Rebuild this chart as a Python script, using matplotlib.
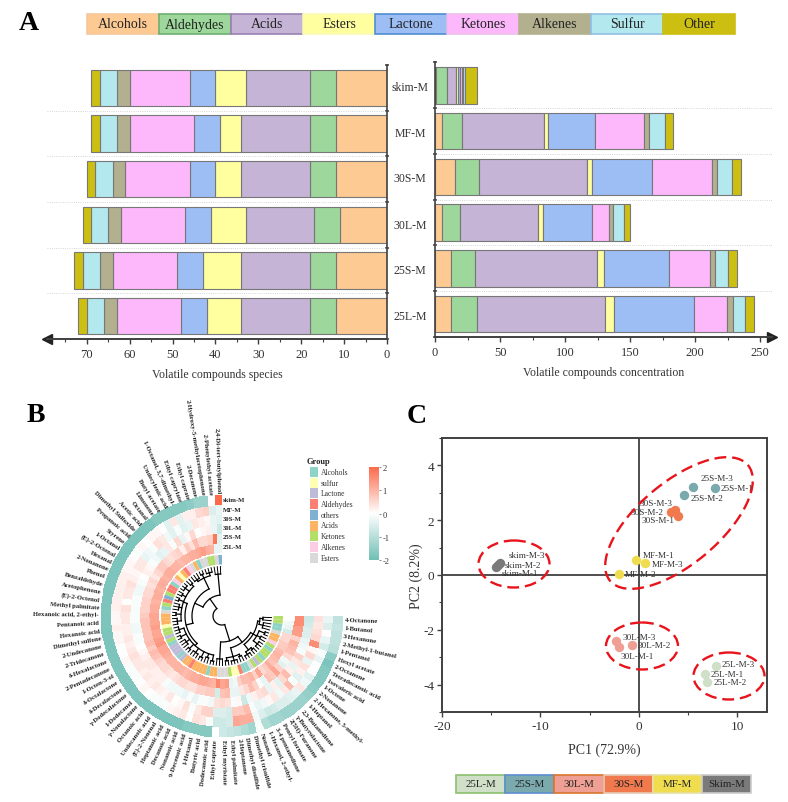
import numpy as np
import matplotlib
matplotlib.use('Agg')
import matplotlib.pyplot as plt
from matplotlib.colors import LinearSegmentedColormap
from matplotlib.patches import Rectangle, Ellipse
from matplotlib.ticker import MultipleLocator

plt.rcParams['font.family'] = ['Liberation Serif', 'DejaVu Serif']
plt.rcParams['axes.unicode_minus'] = False

# ---- dados do painel A
amostras = ['25L-M', '25S-M', '30L-M', '30S-M', 'MF-M', 'skim-M']
classes = ['Alcohols', 'Aldehydes', 'Acids', 'Esters', 'Lactone', 'Ketones', 'Alkenes', 'Sulfur', 'Other']
cores_classes = ['#fdca93', '#9dd79b', '#c5b4d6', '#ffff9f', '#9dbdf5', '#fdb8fc', '#b2b08e', '#b3e8ee', '#cdbf12']
bordas_classes = ['#f5c79a', '#6fae70', '#9a82b5', '#fbfbb5', '#4f8fd0', '#ecc0ec', '#b2b08e', '#8fbfe6', '#cdbf12']

especies = [[12, 6, 16, 8, 6, 15, 3, 4, 2],
            [12, 6, 16, 9, 6, 15, 3, 4, 2],
            [11, 6, 16, 8, 6, 15, 3, 4, 2],
            [12, 6, 16, 6, 6, 15, 3, 4, 2],
            [12, 6, 16, 5, 6, 15, 3, 4, 2],
            [12, 6, 15, 7, 6, 14, 3, 4, 2]]

concentracao = [[12.3, 19.7, 99.0, 6.5, 61.5, 25.4, 4.6, 9.0, 7.4],
                [12.5, 18.5, 93.4, 5.6, 50.0, 31.5, 3.5, 10.0, 7.0],
                [5.6, 13.9, 59.5, 4.3, 37.7, 13.0, 3.0, 8.0, 5.0],
                [15.0, 19.0, 82.7, 4.3, 45.7, 46.3, 4.0, 11.0, 7.0],
                [5.0, 16.0, 63.0, 2.7, 35.9, 38.4, 3.6, 11.8, 6.2],
                [0.4, 9.2, 6.9, 0.8, 1.7, 1.8, 0.7, 1.2, 9.6]]

# ---- dados do painel B
compostos = ['2,4-Di-tert-butylphenol', '2-Phenylethyl acetate', '2-Hydroxy-5-methylacetophenone', '2-Decanone',
             'Ethyl caprate', 'Ethyl caprylate', '1-Octanol, 3,7-dimethyl-', 'Undecylenic acid', 'Butyl acetate',
             'Limonene', 'Octanal', 'Acetic acid', 'Dimethyl Sulfoxide', 'Propanoic acid', 'Styrene', '1-Octanol',
             '(E)-2-Octenal', 'Hexanal', '2-Nonanone', 'Phenol', 'Benzaldehyde', 'Acetophenone', '(E)-2-Octenol',
             'Methyl palmitate', 'Hexanoic acid, 2-ethyl-', 'Pentanoic acid', 'Hexanoic acid', 'Dimethyl sulfone',
             '2-Undecanone', '2-Tridecanone', 'δ-Hexalactone', '2-Pentadecanone', '1-Octen-3-ol', 'δ-Octalactone',
             'δ-Decalactone', 'γ-Dodecalactone', '1-Dodecanol', 'γ-Nonalactone', 'Octanoic acid', 'Undecanoic acid',
             '(E)-2-Nonenal', 'Heptanoic acid', 'Decanoic acid', 'Nonanoic acid', '9-Decenoic acid', '1-Hexanol',
             'Butyric acid', 'Dodecanoic acid', 'Ethyl caprate', 'Ethyl myristate', 'Ethyl palmitate', '2-Heptanone',
             'Dimethyl disulfide', 'Dimethyl trisulfide', 'Nonanal', '1-Hexanol, 2-ethyl-', '3-4 pentanedione',
             'Pentyl formate', '2(5H)-Furanone', 'γ-Butyrolactone', '2,3-Butanedione', '1-Heptanol',
             '2-Hexanone, 5-methyl-', '2-Nonanone', '1-Octene', 'Isovaleric acid', 'Tetradecanoic acid', '2-Octanone',
             'Hexyl acetate', '1-Pentanol', '2-Methyl-1-butanol', '3-Hexanone', '1-Butanol', '4-Octanone']

grupos = ['others', 'Esters', 'Ketones', 'Ketones', 'Esters', 'Esters', 'Alcohols', 'Acids', 'Esters', 'Alkenes',
          'Aldehydes', 'Acids', 'sulfur', 'Acids', 'Alkenes', 'Alcohols', 'Aldehydes', 'Aldehydes', 'Ketones', 'others',
          'Aldehydes', 'Ketones', 'Alcohols', 'Esters', 'Acids', 'Acids', 'Acids', 'sulfur', 'Ketones', 'Ketones',
          'Lactone', 'Ketones', 'Alcohols', 'Lactone', 'Lactone', 'Lactone', 'Alcohols', 'Lactone', 'Acids', 'Acids',
          'Aldehydes', 'Acids', 'Acids', 'Acids', 'Acids', 'Alcohols', 'Acids', 'Acids', 'Esters', 'Esters',
          'Esters', 'Ketones', 'sulfur', 'sulfur', 'Aldehydes', 'Alcohols', 'Alcohols', 'Esters', 'Ketones', 'Lactone',
          'Ketones', 'Alcohols', 'Ketones', 'Ketones', 'Alcohols', 'Ketones', 'Alkenes', 'Acids', 'Acids', 'Esters',
          'Alcohols', 'Alcohols', 'Ketones', 'Ketones']

nomes_grupos = ['Alcohols', 'sulfur', 'Lactone', 'Aldehydes', 'others', 'Acids', 'Ketones', 'Alkenes', 'Esters']
cores_grupos = ['#8dd3c7', '#ffffb3', '#bebada', '#fb8072', '#80b1d3', '#fdb462', '#b3de69', '#fccde5', '#d9d9d9']

linhas_heat = ['skim-M', 'MF-M', '30S-M', '30L-M', '25S-M', '25L-M']

heat_skim = [2.0, 0.0, -1.4, -1.4, -1.6, -1.7, -1.7, -1.7, -1.7, -1.7,
             -1.8, -1.8, -1.8, -1.8, -1.8, -1.8, -1.8, -1.8, -1.8, -1.8,
             -1.8, -1.8, -1.8, -1.8, -1.8, -1.8, -1.8, -1.8, -1.8, -1.8,
             -1.8, -1.8, -1.8, -1.8, -1.8, -1.8, -1.8, -1.8, -1.8, -1.8,
             -1.8, -1.8, -1.8, -1.8, -1.7, -1.7, -1.7, -1.7, 0.0, -0.7,
             -0.8, -0.9, -1.1, -1.3, -0.1, -1.1, -1.3, -1.3, -1.4, -1.4,
             -1.4, -1.4, -1.5, -1.6, -1.7, -1.7, -1.7, -1.8, -1.6, -1.0,
             -0.9, -0.9, -0.8, -0.9]
heat_mf = [-0.3, -0.5, 0.6, 0.5, 0.2, 0.2, -0.4, 0.3, -0.4, 0.0,
           0.1, 0.1, 0.0, 0.1, -0.1, 0.0, 0.1, 0.1, 0.2, 0.2,
           0.2, 0.2, 0.2, 0.2, 0.1, 0.1, 0.2, 0.1, 0.1, 0.0,
           0.0, 0.1, -0.1, -0.1, -0.1, 0.0, 0.1, 0.0, -0.1, -0.1,
           -0.1, 0.1, 0.2, 0.3, 0.0, 0.4, 0.3, -0.1, -0.7, -0.7,
           -0.6, 1.2, 1.1, 1.1, -0.2, -0.5, -0.7, -0.6, -0.5, -0.5,
           -0.4, -0.3, 0.3, -0.2, -0.4, 0.0, 0.0, -0.3, -0.1, -0.6,
           -0.3, 0.0, -0.5, -0.3]
heat_30s = [-0.4, -0.3, 0.1, 0.2, 0.3, -0.3, -0.4, -0.1, -0.4, -0.2,
            0.3, 0.4, -0.1, -0.2, -0.3, 0.3, 0.3, 0.1, 0.2, 0.4,
            0.3, 0.3, 0.0, 0.4, 0.3, 0.3, 0.2, 0.2, 0.3, 0.2,
            0.3, 0.4, 0.3, 0.3, 0.2, 0.3, 0.2, 0.3, 0.2, 0.1,
            0.3, 0.0, 0.1, 0.4, -0.1, 0.3, 0.6, 0.6, -0.5, -0.5,
            -0.6, 0.7, 0.7, 0.9, -0.1, -0.3, -0.2, 0.1, 0.3, -0.2,
            0.3, 0.9, -0.1, -0.4, 0.2, 0.4, -0.3, 0.5, 0.1, 1.5,
            0.5, 0.4, 0.3, 0.4]
heat_30l = [-0.7, -0.3, 0.2, 0.1, 0.0, 0.5, 0.1, -0.3, 0.5, -0.1,
            0.3, -0.3, -0.4, -0.2, -0.1, 0.1, 0.2, 0.0, -0.1, -0.2,
            -0.2, -0.1, -0.1, -0.1, -0.1, -0.1, -0.2, -0.2, -0.1, -0.1,
            0.0, 0.1, 0.2, 0.3, 0.3, 0.2, 0.2, 0.2, -0.1, -0.2,
            -0.2, -0.2, -0.3, -0.1, -0.3, -0.1, -0.1, -0.2, 0.4, 0.5,
            0.4, -0.1, 0.1, -0.7, -0.2, 0.2, 0.4, 0.5, -0.3, 0.2,
            -0.4, 0.5, 0.9, 0.2, -0.3, 0.3, 0.6, -0.1, -0.2, -0.3,
            -0.5, -0.5, -0.6, -0.7]
heat_25s = [-0.4, 1.8, 0.6, 0.5, 0.5, 0.9, 0.4, 0.7, 0.2, 0.6,
            0.5, 0.4, 0.5, 0.7, 0.7, 0.5, 0.3, 0.5, 0.4, 0.5,
            0.5, 0.6, 0.6, 0.6, 0.7, 0.8, 0.8, 0.8, 0.8, 0.8,
            0.9, 0.7, 0.9, 0.8, 0.6, 0.5, 0.5, 0.4, 0.3, 0.4,
            0.5, 0.5, 0.4, 0.4, 0.6, 0.6, 0.7, 0.7, -0.6, 0.8,
            0.9, -0.3, -0.3, 0.3, 0.5, 0.9, 0.6, -0.1, -0.3, 0.8,
            0.7, 1.2, 0.6, -0.4, -0.2, 0.5, 0.8, 0.9, 1.0, 0.6,
            1.3, 1.3, 1.5, 1.5]
heat_25l = [-0.3, -0.3, 1.0, 1.1, 1.3, 1.2, 1.1, 1.1, 1.0, 1.0,
            0.9, 1.0, 1.0, 1.1, 1.1, 1.0, 1.1, 1.1, 1.0, 1.1,
            1.1, 1.0, 1.1, 1.1, 1.2, 1.2, 1.2, 1.3, 1.2, 1.2,
            1.3, 1.4, 1.2, 1.2, 1.1, 1.0, 1.0, 1.0, 1.0, 1.0,
            0.9, 1.0, 1.1, 1.1, 1.2, 1.2, 1.1, 1.0, 1.6, 1.2,
            1.3, -0.3, -0.2, 0.6, 0.9, 0.9, 1.0, 0.6, 1.2, 0.5,
            0.7, 1.1, 0.8, 0.9, 1.0, 0.9, 0.7, 0.7, 0.5, 0.5,
            -0.6, -0.3, -0.2, 0.0]

# arvore do dendrograma: (raio da ligacao, filhos); inteiro = folhas seguidas
arvore = (9, [
    (21, [(42, [3]),
          (30, [(42, [(45, [3]), (46, [2]), (44, [3])]),
                (37, [(41, [(44, [2]), (46, [3]), (45, [2]), (46, [2]), (44, [3]), (46, [2]), (45, [3])]),
                      (40, [(45, [3]), (46, [2]), (44, [3]), (46, [2]), (45, [3]), (46, [2]), (44, [2]), (46, [2])])])])]),
    (26, [(43, [3]),
          (33, [(42, [(45, [2]), (46, [3]), (44, [2])]),
                (36, [(43, [(46, [3]), (45, [2])]),
                      (40, [(45, [3]), (44, [2]), (46, [2])]),
                      (38, [(42, [3]), (41, [2])])])])]),
])

# ---- dados do painel C
pca_grupos = ['25L-M', '25S-M', '30L-M', '30S-M', 'MF-M', 'Skim-M']
pca_cores = ['#d0dfc8', '#7aa9ae', '#ef9f94', '#f0794e', '#f0dc4f', '#7a7a7a']
pca_bordas = ['#8bc06d', '#5b8dd0', '#d9752f', '#e8c9b4', '#e8e0a0', '#cccccc']
pca_nomes = ['25L-M-1', '25L-M-2', '25L-M-3', '25S-M-1', '25S-M-2', '25S-M-3',
             '30L-M-1', '30L-M-2', '30L-M-3', '30S-M-1', '30S-M-2', '30S-M-3',
             'MF-M-1', 'MF-M-2', 'MF-M-3', 'skim-M-1', 'skim-M-2', 'skim-M-3']
pc1 = [6.66, 6.86, 7.87, 7.67, 4.53, 5.47, -2.03, -0.74, -2.30, 3.95, 3.28, 3.65, -0.27, -2.06, 0.57, -14.5, -14.3, -14.09]
pc2 = [-3.62, -3.92, -3.33, 3.17, 2.91, 3.22, -2.62, -2.57, -2.41, 2.17, 2.29, 2.39, 0.56, 0.05, 0.45, 0.29, 0.36, 0.44]
# deslocamento dos rotulos, em pixels
pca_desl = [(6, 0), (7, 0), (5, 2), (6, 0), (7, -3), (8, 9), (2, -9), (6, 0), (6, 4), (-36, -4), (-41, 0), (-35, 7),
            (6, 5), (6, 0), (7, -1), (6, -6), (7, 0), (8, 8)]

W, H = 788, 803


def eixo_px(esq, topo, dir, base, **kw):
    # cria um eixo a partir da posicao em pixels
    return fig.add_axes([esq / W, 1 - base / H, (dir - esq) / W, (base - topo) / H], **kw)


fig = plt.figure(figsize=(W / 100, H / 100), dpi=100)
cinza = '#404040'

# ---- painel A, esquerda
ax1 = eixo_px(47, 66, 387, 340)
acum = np.zeros(6)
for j in range(9):
    vals = [linha[j] for linha in especies]
    ax1.barh(range(6), vals, left=acum, height=0.8, color=cores_classes[j], edgecolor='#777777', linewidth=0.8)
    acum = acum + np.array(vals)
ax1.set_xlim(79.3, 0)
ax1.set_ylim(-0.49, 5.49)

# ---- painel A, direita
ax2 = eixo_px(435, 63, 772, 338)
acum = np.zeros(6)
for j in range(9):
    vals = [linha[j] for linha in concentracao]
    ax2.barh(range(6), vals, left=acum, height=0.8, color=cores_classes[j], edgecolor='#777777', linewidth=0.8)
    acum = acum + np.array(vals)
ax2.set_xlim(0, 259)
ax2.set_ylim(-0.5, 5.51)

for ax, rotulo, passo, menor in [(ax1, 'Volatile compounds species', 10, 5),
                                 (ax2, 'Volatile compounds concentration', 50, 25)]:
    for s in ['top', 'left', 'right', 'bottom']:
        ax.spines[s].set_visible(False)
    ax.spines['bottom'].set_visible(True)
    ax.spines['bottom'].set_linewidth(1.4)
    ax.spines['bottom'].set_color(cinza)
    lado = 'right' if ax is ax1 else 'left'
    ax.spines[lado].set_visible(True)
    ax.spines[lado].set_linewidth(1.2)
    ax.spines[lado].set_color(cinza)
    ax.yaxis.set_ticks_position(lado)
    ax.set_yticks(np.arange(-0.5, 6, 1))
    ax.set_yticklabels([])
    ax.tick_params(axis='y', direction='inout', length=3, width=1.1, color=cinza)
    ax.xaxis.set_major_locator(MultipleLocator(passo))
    ax.xaxis.set_minor_locator(MultipleLocator(menor))
    ax.tick_params(axis='x', which='major', length=3.5, width=1, labelsize=9, pad=3, color=cinza, labelcolor='#333333')
    ax.tick_params(axis='x', which='minor', length=2, width=0.8, color=cinza)
    ax.set_xlabel(rotulo, fontsize=8.5, color='#333333', labelpad=6)
    for y in np.arange(0.5, 5, 1):
        ax.axhline(y, color='#c8c8c8', lw=0.6, ls=':')
ax1.set_xticks(np.arange(0, 71, 10))
ax2.set_xticks(np.arange(0, 251, 50))
ax1.plot(0, 0, '<', color='#222222', ms=7, transform=ax1.transAxes, clip_on=False)
ax2.plot(1, 0, '>', color='#222222', ms=7, transform=ax2.transAxes, clip_on=False)

# ---- painel B: heatmap circular
raio_max = 125
ax3 = eixo_px(222 - raio_max, 617 - raio_max, 222 + raio_max, 617 + raio_max, projection='polar')
ax3.set_theta_zero_location('N')
ax3.set_theta_direction(1)
ax3.axis('off')
ax3.set_rlim(0, raio_max)
n = len(compostos)
passo_t = np.radians(270) / n
t_bordas = np.arange(n + 1) * passo_t
t_centros = t_bordas[:-1] + passo_t / 2
r_bordas = np.linspace(63, 121, 7)
valores = np.array([heat_25l, heat_25s, heat_30l, heat_30s, heat_mf, heat_skim])
mapa = LinearSegmentedColormap.from_list('heat', ['#70bfb5', '#ffffff', '#fb6a4a'])
malha = ax3.pcolormesh(t_bordas, r_bordas, valores, cmap=mapa, vmin=-2, vmax=2, shading='flat', linewidth=0)

# anel dos grupos
cor_de = dict(zip(nomes_grupos, cores_grupos))
ax3.bar(t_centros, 9.5, width=passo_t, bottom=51.5, color=[cor_de[g] for g in grupos], linewidth=0)

# nomes dos compostos
for t, nome in zip(t_centros, compostos):
    phi = 90 + np.degrees(t)
    if phi < 270:
        ax3.text(t, 123, nome, rotation=phi - 180, rotation_mode='anchor', ha='right', va='center',
                 fontsize=4.8, fontweight='bold', color='#222222')
    else:
        ax3.text(t, 123, nome, rotation=phi - 360, rotation_mode='anchor', ha='left', va='center',
                 fontsize=4.8, fontweight='bold', color='#222222')


# dendrograma
def desenha(no, inicio):
    # devolve o angulo do no e a proxima folha livre
    raio, filhos = no
    angs = []
    for f in filhos:
        if isinstance(f, int):
            for i in range(f):
                ax3.plot([t_centros[inicio], t_centros[inicio]], [raio, 49.5], color='k', lw=0.7)
                angs.append(t_centros[inicio])
                inicio += 1
        else:
            a, inicio = desenha(f, inicio)
            ax3.plot([a, a], [raio, f[0]], color='k', lw=0.9)
            angs.append(a)
    arco = np.linspace(min(angs), max(angs), 40)
    ax3.plot(arco, np.full(40, raio), color='k', lw=0.9)
    return (min(angs) + max(angs)) / 2, inicio


desenha(arvore, 0)
ax3.set_rlim(0, raio_max)

# ---- painel C: PCA
ax4 = eixo_px(442, 439, 767, 713)
for i in range(6):
    ax4.scatter(pc1[i * 3:i * 3 + 3], pc2[i * 3:i * 3 + 3], s=46, color=pca_cores[i], linewidths=0, zorder=3)
for x, y, nome, d in zip(pc1, pc2, pca_nomes, pca_desl):
    ax4.annotate(nome, (x, y), xytext=(d[0] * 0.72, d[1] * 0.72), textcoords='offset points', fontsize=6.6,
                 va='center', ha='left', color='#333333', zorder=4)
ax4.axhline(0, color=cinza, lw=1.3, zorder=2)
ax4.axvline(0, color=cinza, lw=1.3, zorder=2)
ax4.set_xlim(-20, 13)
ax4.set_ylim(-5, 5)
ax4.xaxis.set_major_locator(MultipleLocator(10))
ax4.xaxis.set_minor_locator(MultipleLocator(5))
ax4.yaxis.set_major_locator(MultipleLocator(2))
ax4.yaxis.set_minor_locator(MultipleLocator(1))
ax4.tick_params(which='major', length=3.5, width=1, labelsize=9.5, pad=2, color=cinza, labelcolor='#333333')
ax4.tick_params(which='minor', length=2, width=0.8, color=cinza)
ax4.set_xlabel('PC1 (72.9%)', fontsize=10, color='#333333', labelpad=8)
ax4.set_ylabel('PC2 (8.2%)', fontsize=10, color='#333333', labelpad=0)
for s in ax4.spines.values():
    s.set_linewidth(1.4)
    s.set_color(cinza)

# ---- camada em pixels: legendas, letras, elipses
ov = fig.add_axes([0, 0, 1, 1], zorder=10)
ov.set_xlim(0, W)
ov.set_ylim(H, 0)
ov.axis('off')
ov.patch.set_alpha(0)

for i, nome in enumerate(classes):
    ov.add_patch(Rectangle((87 + i * 72, 14.5), 72, 20.5, facecolor=cores_classes[i], edgecolor=bordas_classes[i], lw=1.2))
    ov.text(87 + i * 72 + 36, 25, nome, ha='center', va='center', fontsize=10, color='#222222')

for nome, y in zip(amostras, [317, 271, 226, 179, 134, 88]):
    ov.text(410, y, nome, ha='center', va='center', fontsize=8.5, color='#333333')

for letra, x, y in [('A', 29, 24), ('B', 36, 416), ('C', 417, 417)]:
    ov.text(x, y, letra, ha='center', va='center', fontsize=20, fontweight='bold', color='k')

for nome, y in zip(linhas_heat, [500.7, 510.5, 520, 529, 538, 548]):
    ov.text(223, y, nome, ha='left', va='center', fontsize=4.8, fontweight='bold', color='#222222')

ov.text(307, 462, 'Group', ha='left', va='center', fontsize=6, fontweight='bold', color='#222222')
for i, nome in enumerate(nomes_grupos):
    ov.add_patch(Rectangle((310, 468 + i * 10.7), 8.5, 10, facecolor=cores_grupos[i], edgecolor='none'))
    ov.text(321, 473 + i * 10.7, nome, ha='left', va='center', fontsize=5.5, color='#333333')

cax = eixo_px(369, 468, 379, 561)
barra = fig.colorbar(malha, cax=cax)
barra.set_ticks([-2, -1, 0, 1, 2])
barra.ax.tick_params(length=1.5, width=0.5, labelsize=6, pad=1, color='#555555', labelcolor='#333333')
barra.outline.set_visible(False)

for cx, cy, larg, alt, ang in [(679, 524, 180, 82, -40), (514, 565, 71, 47, 0), (642, 647, 72, 47, 0), (729, 677, 71, 47, 0)]:
    ov.add_patch(Ellipse((cx, cy), larg, alt, angle=ang, fill=False, edgecolor='#e8141c', lw=1.7, ls=(0, (5, 2.5))))

for i, nome in enumerate(pca_grupos):
    ov.add_patch(Rectangle((456 + i * 49.2, 775.5), 49.2, 18.5, facecolor=pca_cores[i], edgecolor=pca_bordas[i], lw=1.2))
    ov.text(456 + i * 49.2 + 24.6, 785, nome, ha='center', va='center', fontsize=7.8, color='#222222')

fig.savefig('out.png', dpi=100)
